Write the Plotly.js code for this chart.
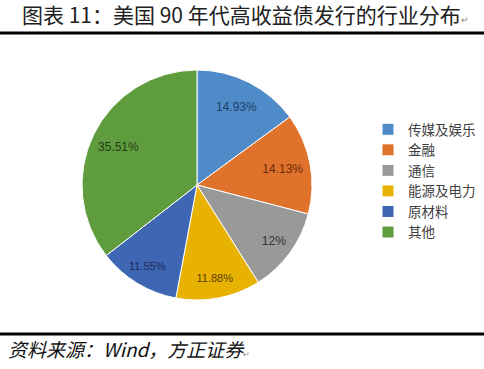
<!DOCTYPE html>
<html><head><meta charset="utf-8">
<script src="https://cdn.plot.ly/plotly-3.0.1.min.js"></script>
<style>html,body{margin:0;padding:0;background:#fff}</style>
</head><body><div id="c" style="width:484px;height:369px"></div>
<script>
const categories = ['传媒及娱乐','金融','通信','能源及电力','原材料','其他'];
const values = [14.93, 14.13, 12.00, 11.88, 11.55, 35.51];
const labelsText = ['14.93%','14.13%','12%','11.88%','11.55%','35.51%'];
const sliceColors = ['#4f8bc9','#e0732b','#999999','#e8b203','#3f66b3','#5f9c3e'];
const textColors = ['#1f3f66','#6b2a0a','#333333','#5a3d00','#1a2d5a','#1f3c12'];
// which labels sit nearer the rim (drawn in an outer label ring)
const outerLabel = [false, false, true, true, true, false];

const dom = {x:[(197-115)/484,(197+115)/484], y:[(184-115)/369,(184+115)/369]};
const base = {
  type:'pie', labels:categories, values:values,
  sort:false, direction:'clockwise', rotation:0, domain:dom, hoverinfo:'none'
};
const pieTrace = Object.assign({}, base, {
  textinfo:'none',
  marker:{colors:sliceColors, line:{color:'#ffffff', width:1}}
});
function labelRing(hole, pick){
  return Object.assign({}, base, {
    hole:hole, showlegend:false,
    text:labelsText.map((t,i)=> pick(i) ? t : ''),
    textinfo:'text', textposition:'inside', insidetextorientation:'horizontal',
    marker:{colors:categories.map(()=> 'rgba(0,0,0,0)'), line:{width:0}},
    textfont:{family:'Liberation Sans Narrow, Liberation Sans, Arial, sans-serif', size:12, color:textColors}
  });
}
const innerRing = labelRing(0.52, i => !outerLabel[i]);
const outerRing = labelRing(0.66, i => outerLabel[i]);
const layout = {
  width:484, height:369, margin:{l:0,r:0,t:0,b:0,autoexpand:false},
  paper_bgcolor:'#fff', plot_bgcolor:'#fff',
  showlegend:true,
  legend:{x:368/484, y:1-114/369, xanchor:'left', yanchor:'top',
    bgcolor:'rgba(0,0,0,0)',
    font:{family:'Noto Sans CJK SC, sans-serif', size:13.5, color:'#404040'}},
  shapes:[
    {type:'line', xref:'paper', yref:'paper', x0:0, x1:1, y0:1-33/369, y1:1-33/369, line:{color:'#000', width:3}},
    {type:'line', xref:'paper', yref:'paper', x0:0, x1:1, y0:1-334/369, y1:1-334/369, line:{color:'#000', width:3}}
  ],
  annotations:[
    {xref:'paper', yref:'paper', x:20/484, y:1-14/369, xanchor:'left', yanchor:'middle', showarrow:false,
     text:'图表 11：美国 90 年代高收益债发行的行业分布<span style="font-size:9px;color:#888">↵</span>',
     font:{family:'Noto Sans CJK SC, sans-serif', size:21, color:'#222'}},
    {xref:'paper', yref:'paper', x:6/484, y:1-348/369, xanchor:'left', yanchor:'middle', showarrow:false,
     text:'<i>资料来源：Wind，方正证券</i><span style="font-size:8px;color:#888">↵</span>',
     font:{family:'Noto Sans CJK SC, sans-serif', size:19, color:'#111'}}
  ]
};
Plotly.newPlot('c',[pieTrace,innerRing,outerRing],layout,{displayModeBar:false, staticPlot:true});
</script></body></html>
